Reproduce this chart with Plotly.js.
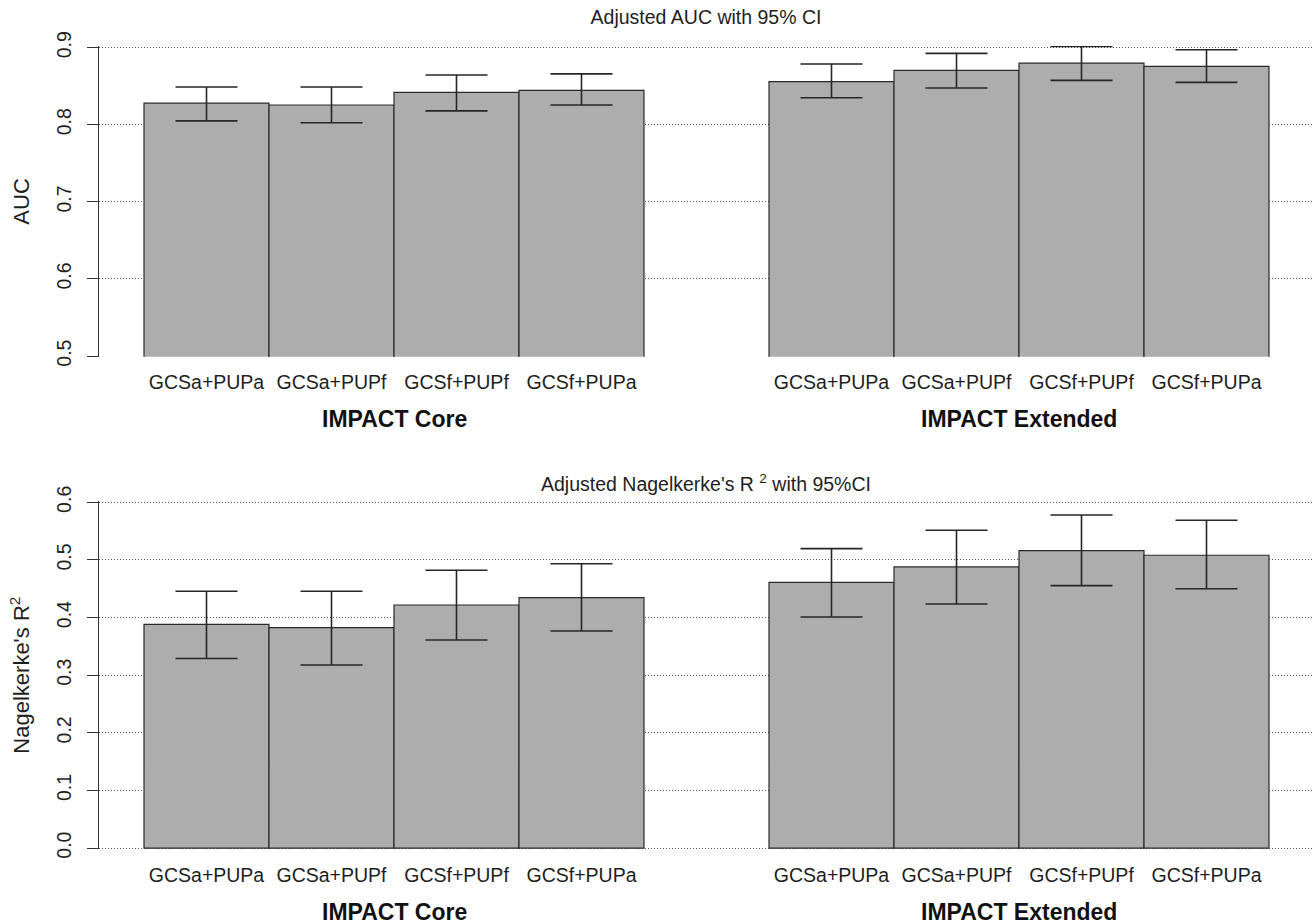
<!DOCTYPE html>
<html>
<head>
<meta charset="utf-8">
<script src="https://cdn.plot.ly/plotly-3.0.1.min.js"></script>
<style>html,body{margin:0;padding:0;background:#fff;}#chart{width:1313px;height:924px;}</style>
</head>
<body>
<div id="chart"></div>
<script>
// ---- data ----
const categories = ['GCSa+PUPa','GCSa+PUPf','GCSf+PUPf','GCSf+PUPa','GCSa+PUPa','GCSa+PUPf','GCSf+PUPf','GCSf+PUPa'];
const barPositions = [0.5, 1.5, 2.5, 3.5, 5.5, 6.5, 7.5, 8.5];
const groupLabels = ['IMPACT Core', 'IMPACT Extended'];
const groupCenters = [2, 7];

const auc      = [0.828, 0.8256, 0.842, 0.8446, 0.856, 0.8705, 0.880, 0.8757];
const aucLower = [0.805, 0.8026, 0.818, 0.8256, 0.835, 0.8476, 0.8576, 0.855];
const aucUpper = [0.849, 0.849, 0.8645, 0.866, 0.8787, 0.8926, 0.9017, 0.8973];

const r2      = [0.388, 0.3824, 0.4217, 0.4344, 0.461, 0.4877, 0.516, 0.508];
const r2Lower = [0.329, 0.3176, 0.361, 0.3766, 0.401, 0.4235, 0.4553, 0.450];
const r2Upper = [0.4455, 0.4455, 0.482, 0.4934, 0.5195, 0.5513, 0.578, 0.5687];

const aucTicks = [0.5, 0.6, 0.7, 0.8, 0.9];
const r2Ticks = [0.0, 0.1, 0.2, 0.3, 0.4, 0.5, 0.6];

// ---- styling ----
const W = 1313, H = 924;
const FONT = 'Liberation Sans, Arial, Helvetica, sans-serif';
const ink = '#1e1e1e';
const barFill = '#adadad';

function barTrace(vals, lo, hi, xa, ya) {
  return {
    type: 'bar', x: barPositions, y: vals, width: 1,
    xaxis: xa, yaxis: ya,
    marker: {color: barFill, line: {color: '#2a2a2a', width: 1.2}},
    error_y: {
      type: 'data', symmetric: false,
      array: hi.map((h, i) => h - vals[i]),
      arrayminus: lo.map((l, i) => vals[i] - l),
      color: '#262626', thickness: 1.6, width: 31
    },
    hoverinfo: 'x+y'
  };
}

const xCommon = {
  range: [-0.36, 9.352], tickmode: 'array', tickvals: barPositions, ticktext: categories,
  showgrid: false, zeroline: false, showline: false, ticks: '',
  tickfont: {family: FONT, size: 19.5, color: ink}, ticklabelstandoff: 12, fixedrange: true
};
const yCommon = {
  tickmode: 'array', tickangle: -90, ticks: 'outside', ticklen: 11, tickwidth: 1, tickcolor: '#333',
  showline: true, linecolor: '#333', linewidth: 1,
  showgrid: true, gridcolor: '#555', gridwidth: 1, griddash: '1px,2px', zeroline: false,
  tickfont: {family: FONT, size: 19.5, color: ink}, ticklabelstandoff: 8, automargin: false, fixedrange: true
};
const pxToPaper = p => 1 - p / H;

const layout = {
  width: W, height: H,
  margin: {l: 99, r: 0, t: 0, b: 0},
  paper_bgcolor: '#fff', plot_bgcolor: '#fff',
  showlegend: false, bargap: 0,
  font: {family: FONT, color: ink},
  title: {text: 'Adjusted AUC with 95% CI', font: {family: FONT, size: 19.5, color: ink},
          xref: 'paper', x: 0.5, xanchor: 'center', yref: 'container', y: pxToPaper(17), yanchor: 'middle'},
  xaxis: Object.assign({}, xCommon, {anchor: 'y'}),
  xaxis2: Object.assign({}, xCommon, {anchor: 'y2'}),
  yaxis: Object.assign({}, yCommon, {
    domain: [pxToPaper(356.8), pxToPaper(46.1)], range: [0.499, 0.902],
    tickvals: aucTicks, ticktext: aucTicks.map(v => v.toFixed(1)),
    title: {text: 'AUC', font: {family: FONT, size: 22, color: ink}, standoff: 17}
  }),
  yaxis2: Object.assign({}, yCommon, {
    domain: [pxToPaper(849.2), pxToPaper(501.1)], range: [-0.002, 0.602],
    tickvals: r2Ticks, ticktext: r2Ticks.map(v => v.toFixed(1)),
    title: {text: "Nagelkerke's R<sup>2</sup>", font: {family: FONT, size: 22, color: ink}, standoff: 17}
  }),
  annotations: [
    {text: "Adjusted Nagelkerke's R <sup>2</sup> with 95%CI", xref: 'paper', x: 0.5, xanchor: 'center',
     yref: 'paper', y: pxToPaper(483), yanchor: 'middle', showarrow: false,
     font: {family: FONT, size: 19.5, color: ink}}
  ]
};
groupLabels.forEach((g, i) => {
  layout.annotations.push({text: '<b>' + g + '</b>', xref: 'x', x: groupCenters[i], yref: 'paper', y: pxToPaper(419),
    yanchor: 'middle', showarrow: false, font: {family: FONT, size: 23, color: '#111'}});
  layout.annotations.push({text: '<b>' + g + '</b>', xref: 'x2', x: groupCenters[i], yref: 'paper', y: pxToPaper(912),
    yanchor: 'middle', showarrow: false, font: {family: FONT, size: 23, color: '#111'}});
});

const data = [
  barTrace(auc, aucLower, aucUpper, 'x', 'y'),
  barTrace(r2, r2Lower, r2Upper, 'x2', 'y2')
];
Plotly.newPlot('chart', data, layout, {displayModeBar: false, staticPlot: true});
</script>
</body>
</html>
